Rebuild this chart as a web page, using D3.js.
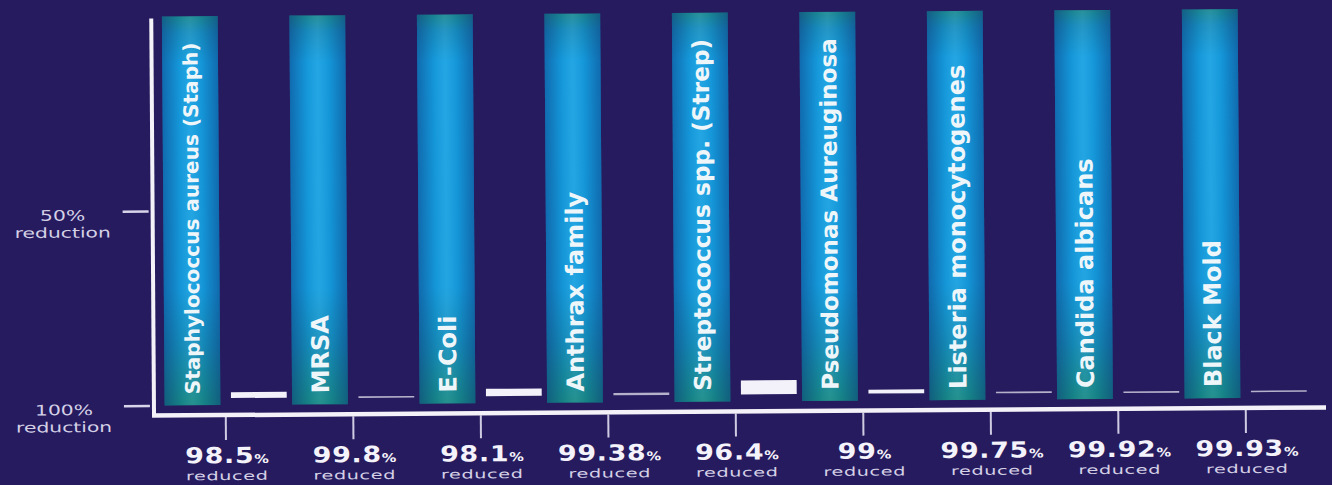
<!DOCTYPE html>
<html>
<head>
<meta charset="utf-8">
<script src="https://cdn.jsdelivr.net/npm/d3@7"></script>
<style>
  html, body { margin: 0; padding: 0; background: #251b5d; }
  svg { display: block; }
</style>
</head>
<body>
<svg id="chart" width="1332" height="485"></svg>
<script>
// ---- data ----
const categories = [
  "Staphylococcus aureus (Staph)", "MRSA", "E-Coli", "Anthrax family",
  "Streptococcus spp. (Strep)", "Pseudomonas Aureuginosa",
  "Listeria monocytogenes", "Candida albicans", "Black Mold"
];
const startLevel = [0, 0, 0, 0, 0, 0, 0, 0, 0];            // % reduction before treatment
const reducedPct = [98.5, 99.8, 98.1, 99.38, 96.4, 99, 99.75, 99.92, 99.93];
const reducedLabels = ["98.5", "99.8", "98.1", "99.38", "96.4", "99", "99.75", "99.92", "99.93"];
const yTickValues = [50, 100];
const yTickLabels = ["50%", "100%"];

// ---- layout ----
const svg = d3.select("#chart");
const W = 1332, H = 485;
svg.append("rect").attr("width", W).attr("height", H).attr("fill", "#261b5e");

// the printed chart is very slightly tilted
const root = svg.append("g").attr("transform", "rotate(-0.4,666,410)");

const x = d3.scaleBand().domain(categories).range([162, 1309.5]).paddingInner(0).paddingOuter(0);
const xs = d3.scaleBand().domain(["before", "after"]).range([0, x.bandwidth()])
  .paddingInner(0.16).paddingOuter(0.04);
const y = d3.scaleLinear().domain([0, 100]).range([13, 402]);
const tickX = d => x(d) + (xs("before") + xs.bandwidth() + xs("after")) / 2;

// gradients
const defs = svg.append("defs");
const gv = defs.append("linearGradient").attr("id", "gv").attr("x1", 0).attr("y1", 0).attr("x2", 0).attr("y2", 1);
[[0, "#1b8a92"], [0.04, "#178fc0"], [0.12, "#15a0e2"], [0.7, "#159fe0"], [0.85, "#1590bc"], [1, "#178a86"]]
  .forEach(([o, c]) => gv.append("stop").attr("offset", o).attr("stop-color", c));
const gh = defs.append("linearGradient").attr("id", "gh").attr("x1", 0).attr("y1", 0).attr("x2", 1).attr("y2", 0);
[[0, "#0a2a70", 0.45], [0.3, "#0a2a70", 0.08], [0.5, "#ffffff", 0.06], [0.7, "#0a2a70", 0.08], [1, "#0a2a70", 0.45]]
  .forEach(([o, c, a]) => gh.append("stop").attr("offset", o).attr("stop-color", c).attr("stop-opacity", a));

const rows = categories.map((c, i) => ({ c, start: startLevel[i], red: reducedPct[i], lab: reducedLabels[i] }));

// blue "before" bars
const g = root.append("g");
["url(#gv)", "url(#gh)"].forEach((fill, k) => {
  g.selectAll("rect.before" + k).data(rows).join("rect")
    .attr("class", "before" + k)
    .attr("x", d => x(d.c) + xs("before"))
    .attr("y", d => y(d.start))
    .attr("width", xs.bandwidth())
    .attr("height", d => y(100) - y(d.start))
    .attr("fill", fill);
});

// names inside bars (shrink a name that would not fit the bar)
const names = g.selectAll("text.name").data(rows).join("text")
  .attr("class", "name")
  .attr("transform", d => `translate(${x(d.c) + xs("before") + xs.bandwidth() / 2 + 9},391) rotate(-90)`)
  .attr("font-family", "DejaVu Sans, sans-serif")
  .attr("font-weight", "bold")
  .attr("font-size", 24)
  .attr("fill", "#eef6fa")
  .text(d => d.c);
names.each(function (d) {
  const len = this.getComputedTextLength();
  if (len > 362) {
    const fs = 24 * 352 / len;
    d3.select(this).attr("font-size", fs)
      .attr("transform", `translate(${x(d.c) + xs("before") + xs.bandwidth() / 2 + fs * 0.37},391) rotate(-90)`);
  }
});

// white "after" bars
const lift = 7;
g.selectAll("rect.after").data(rows).join("rect")
  .attr("class", "after")
  .attr("x", d => x(d.c) + xs("after"))
  .attr("y", d => y(d.red) - lift)
  .attr("width", xs.bandwidth())
  .attr("height", d => Math.max(1.6, y(100) - y(d.red)))
  .attr("fill", "#f3f1fa")
  .attr("opacity", d => (y(100) - y(d.red)) < 3 ? 0.7 : 1);

// y axis line & ticks
root.append("line").attr("x1", 154).attr("x2", 154).attr("y1", 15).attr("y2", 413)
  .attr("stroke", "#f4f2f8").attr("stroke-width", 4);
const yAxis = d3.axisLeft(y).tickValues(yTickValues).tickSize(26).tickFormat("");
const ya = root.append("g").attr("transform", "translate(150,0)").call(yAxis);
ya.select(".domain").remove();
ya.selectAll(".tick line").attr("stroke", "#d8d4ea").attr("stroke-width", 2.5);
yTickValues.forEach((v, i) => {
  root.append("text")
    .attr("transform", `translate(64,${y(v) + 9}) scale(1.4,1)`)
    .attr("text-anchor", "middle")
    .attr("font-family", "DejaVu Sans, sans-serif").attr("font-size", 14.5)
    .attr("fill", "#d4d0e6").text(yTickLabels[i]);
  root.append("text")
    .attr("transform", `translate(64,${y(v) + 26}) scale(1.45,1)`)
    .attr("text-anchor", "middle")
    .attr("font-family", "DejaVu Sans, sans-serif").attr("font-size", 14)
    .attr("fill", "#d4d0e6").text("reduction");
});

// x axis
root.append("line").attr("x1", 152).attr("x2", 1326).attr("y1", 412).attr("y2", 412)
  .attr("stroke", "#f4f2f8").attr("stroke-width", 4.5);
g.selectAll("line.xt").data(rows).join("line")
  .attr("class", "xt")
  .attr("x1", d => tickX(d.c)).attr("x2", d => tickX(d.c))
  .attr("y1", 414).attr("y2", 437)
  .attr("stroke", "#cfcbe2").attr("stroke-width", 2);

const lbl = g.selectAll("text.val").data(rows).join("text")
  .attr("class", "val")
  .attr("transform", d => `translate(${tickX(d.c) + 1},460) scale(1.22,1)`)
  .attr("text-anchor", "middle")
  .attr("font-family", "DejaVu Sans, sans-serif")
  .attr("font-weight", "bold")
  .attr("fill", "#f4f2fa");
lbl.append("tspan").attr("font-size", 22).attr("letter-spacing", 0.6).text(d => d.lab);
lbl.append("tspan").attr("font-size", 12).text("%");

g.selectAll("text.red").data(rows).join("text")
  .attr("class", "red")
  .attr("transform", d => `translate(${tickX(d.c) + 1},477) scale(1.6,1)`)
  .attr("text-anchor", "middle")
  .attr("font-family", "DejaVu Sans, sans-serif")
  .attr("font-size", 12)
  .attr("letter-spacing", 0.4)
  .attr("fill", "#d4d0e6")
  .text("reduced");
</script>
</body>
</html>
